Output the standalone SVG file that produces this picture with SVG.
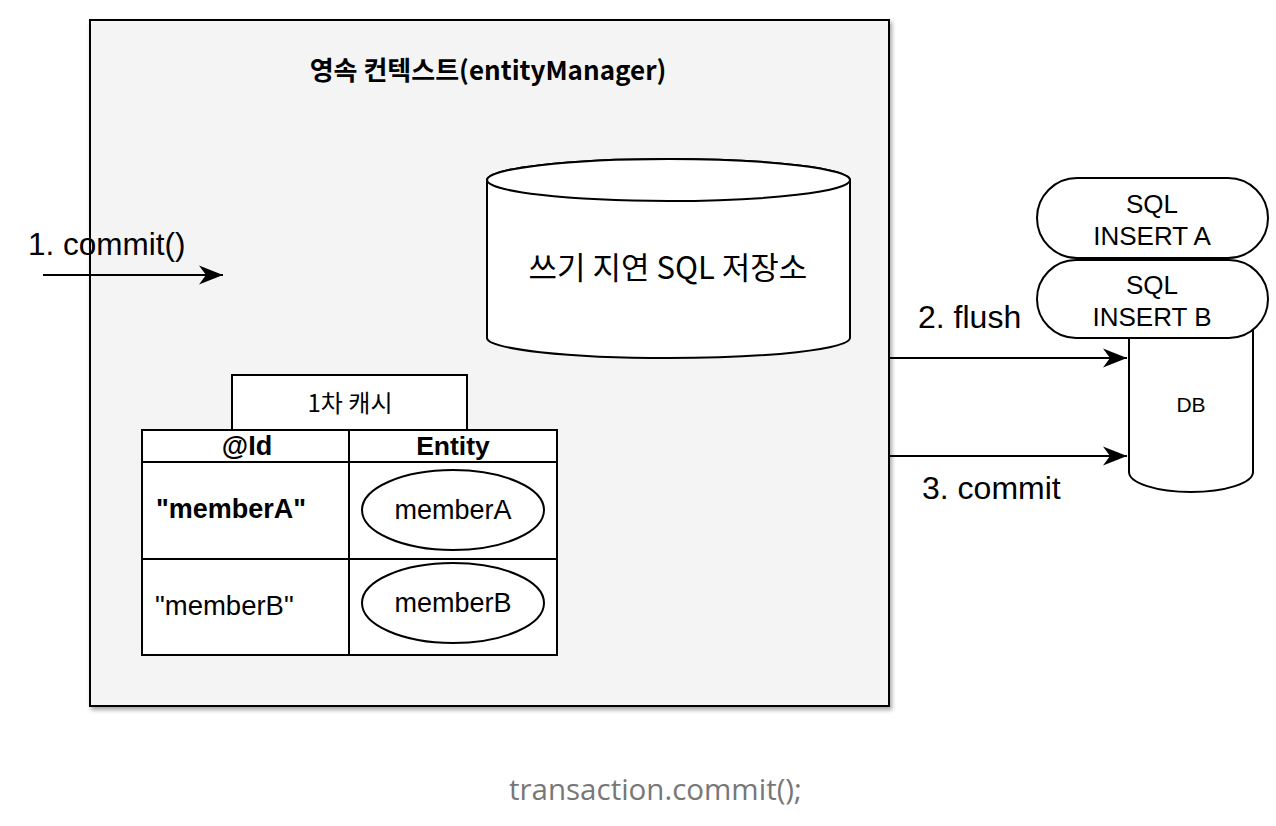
<svg xmlns="http://www.w3.org/2000/svg" width="1276" height="826" viewBox="0 0 1276 826">
<defs>
  <filter id="sh" x="-5%" y="-5%" width="110%" height="110%">
    <feDropShadow dx="2" dy="3" stdDeviation="2" flood-color="#000" flood-opacity="0.35"/>
  </filter>
  <marker id="arr" markerWidth="26" markerHeight="20" refX="24" refY="10" orient="auto" markerUnits="userSpaceOnUse">
    <path d="M0,0.5 L24,10 L0,19.5 L7,10 Z" fill="#000"/>
  </marker>
</defs>
<style>
  .ln { fill: none; stroke: #000; stroke-width: 2; }
  .sh { fill: #fff; stroke: #000; stroke-width: 2; }
  .t { font-family: "Liberation Sans", "Noto Sans CJK KR", Arial, sans-serif; fill: #000; }
  .k { font-family: "Noto Sans CJK KR", "Liberation Sans", sans-serif; fill: #000; }
  .c { text-anchor: middle; }
  .b { font-weight: bold; }
</style>
<rect width="1276" height="826" fill="#fff"/>

<g id="context">
  <rect x="90" y="20" width="799" height="686" fill="#f4f4f4" stroke="#000" stroke-width="2" filter="url(#sh)"/>
  <text class="k b c" x="488" y="80" font-size="26">영속 컨텍스트(entityManager)</text>
</g>

<g id="sql-store">
  <path class="sh" d="M487,180 L487,338 A181.5,20 0 0 0 850,338 L850,180 A181.5,21 0 0 0 487,180 Z"/>
  <ellipse class="sh" cx="668.5" cy="180" rx="181.5" ry="21" fill="none"/>
  <text class="k c" x="668" y="279" font-size="31">쓰기 지연 SQL 저장소</text>
</g>

<g id="cache-label">
  <rect class="sh" x="232" y="375" width="235" height="55"/>
  <text class="k c" x="350" y="412" font-size="24">1차 캐시</text>
</g>

<g id="cache-table">
  <rect class="sh" x="142" y="430" width="415" height="225"/>
  <line class="ln" x1="142" y1="462" x2="557" y2="462"/>
  <line class="ln" x1="142" y1="559" x2="557" y2="559"/>
  <line class="ln" x1="349" y1="430" x2="349" y2="655"/>
  <text class="t b c" x="247" y="455" font-size="27">@Id</text>
  <text class="t b c" x="453" y="455" font-size="26.5">Entity</text>
  <text class="t b" x="156" y="518" font-size="27">"memberA"</text>
  <text class="t" x="155" y="615" font-size="27.5">"memberB"</text>
</g>

<g id="entity-a">
  <ellipse class="sh" cx="453" cy="510" rx="91" ry="40"/>
  <text class="t c" x="453" y="519" font-size="27">memberA</text>
</g>

<g id="entity-b">
  <ellipse class="sh" cx="453" cy="603" rx="91" ry="40"/>
  <text class="t c" x="453" y="612" font-size="27">memberB</text>
</g>

<g id="db">
  <path class="sh" d="M1129,300 L1129,472 A62,20 0 0 0 1253,472 L1253,300 Z"/>
  <text class="t c" x="1191" y="412" font-size="21">DB</text>
</g>

<g id="sql-insert-b">
  <rect class="sh" x="1037" y="260" width="231" height="78" rx="39" ry="39"/>
  <text class="t c" x="1152" y="294" font-size="26">SQL</text>
  <text class="t c" x="1152" y="326" font-size="26">INSERT B</text>
</g>

<g id="sql-insert-a">
  <rect class="sh" x="1037" y="178" width="231" height="80" rx="40" ry="40"/>
  <text class="t c" x="1152" y="213" font-size="26">SQL</text>
  <text class="t c" x="1152" y="245" font-size="26">INSERT A</text>
</g>

<g id="connectors">
  <line class="ln" x1="43" y1="275" x2="223" y2="275" marker-end="url(#arr)"/>
  <line class="ln" x1="889" y1="358" x2="1127" y2="358" marker-end="url(#arr)"/>
  <line class="ln" x1="889" y1="456" x2="1127" y2="456" marker-end="url(#arr)"/>
  <text class="t" x="28" y="255" font-size="31.5">1. commit()</text>
  <text class="t" x="918" y="328" font-size="32">2. flush</text>
  <text class="t" x="922" y="499" font-size="32">3. commit</text>
</g>

<text x="509" y="800" font-family="'Open Sans', 'Noto Sans', sans-serif" font-size="29.5" fill="#777">transaction.commit();</text>
</svg>
